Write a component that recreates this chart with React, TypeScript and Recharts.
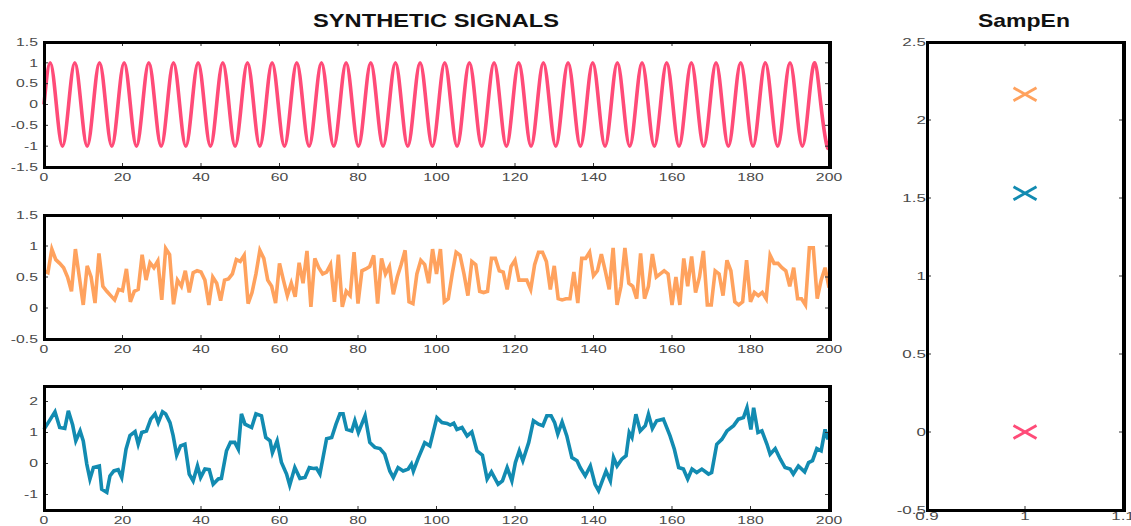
import React from 'react';
import { LineChart, Line, XAxis, YAxis, ScatterChart, Scatter } from 'recharts';

// top panel: pure sine, read at its zero crossings and extrema
const sineT = [
  0, 1.57, 3.14, 4.71, 6.28, 7.85, 9.42, 11.0, 12.57, 14.14, 15.71, 17.28, 18.85, 20.42, 21.99, 23.56,
  25.13, 26.7, 28.27, 29.85, 31.42, 32.99, 34.56, 36.13, 37.7, 39.27, 40.84, 42.41, 43.98, 45.55, 47.12, 48.69,
  50.27, 51.84, 53.41, 54.98, 56.55, 58.12, 59.69, 61.26, 62.83, 64.4, 65.97, 67.54, 69.12, 70.69, 72.26, 73.83,
  75.4, 76.97, 78.54, 80.11, 81.68, 83.25, 84.82, 86.39, 87.96, 89.54, 91.11, 92.68, 94.25, 95.82, 97.39, 98.96,
  100.53, 102.1, 103.67, 105.24, 106.81, 108.38, 109.96, 111.53, 113.1, 114.67, 116.24, 117.81, 119.38, 120.95, 122.52, 124.09,
  125.66, 127.23, 128.81, 130.38, 131.95, 133.52, 135.09, 136.66, 138.23, 139.8, 141.37, 142.94, 144.51, 146.08, 147.65, 149.23,
  150.8, 152.37, 153.94, 155.51, 157.08, 158.65, 160.22, 161.79, 163.36, 164.93, 166.5, 168.08, 169.65, 171.22, 172.79, 174.36,
  175.93, 177.5, 179.07, 180.64, 182.21, 183.78, 185.35, 186.92, 188.5, 190.07, 191.64, 193.21, 194.78, 196.35, 197.92, 199.49,
  200,
];
const sineV = [
  0, 1, 0, -1, 0, 1, 0, -1, 0, 1, 0, -1, 0, 1, 0, -1,
  0, 1, 0, -1, 0, 1, 0, -1, 0, 1, 0, -1, 0, 1, 0, -1,
  0, 1, 0, -1, 0, 1, 0, -1, 0, 1, 0, -1, 0, 1, 0, -1,
  0, 1, 0, -1, 0, 1, 0, -1, 0, 1, 0, -1, 0, 1, 0, -1,
  0, 1, 0, -1, 0, 1, 0, -1, 0, 1, 0, -1, 0, 1, 0, -1,
  0, 1, 0, -1, 0, 1, 0, -1, 0, 1, 0, -1, 0, 1, 0, -1,
  0, 1, 0, -1, 0, 1, 0, -1, 0, 1, 0, -1, 0, 1, 0, -1,
  0, 1, 0, -1, 0, 1, 0, -1, 0, 1, 0, -1, 0, 1, 0, -1,
  -0.87,
];

// middle panel: one value per sample, t = 0..200
const noiseV = [
  0.60, 0.57, 0.95, 0.78, 0.72, 0.65, 0.50, 0.27, 0.95, 0.50,
  0.05, 0.68, 0.50, 0.08, 0.88, 0.35, 0.27, 0.20, 0.13, 0.30,
  0.28, 0.63, 0.10, 0.27, 0.30, 0.86, 0.45, 0.73, 0.65, 0.76,
  0.13, 0.96, 0.86, 0.06, 0.45, 0.35, 0.60, 0.25, 0.57, 0.60,
  0.58, 0.45, 0.05, 0.50, 0.40, 0.12, 0.45, 0.47, 0.55, 0.78,
  0.75, 0.85, 0.07, 0.25, 0.55, 0.93, 0.80, 0.45, 0.35, 0.08,
  0.72, 0.45, 0.20, 0.40, 0.18, 0.73, 0.40, 0.92, 0.02, 0.80,
  0.65, 0.55, 0.58, 0.70, 0.10, 0.86, 0.02, 0.27, 0.20, 0.90,
  0.07, 0.60, 0.63, 0.67, 0.85, 0.07, 0.80, 0.55, 0.67, 0.22,
  0.50, 0.70, 0.93, 0.10, 0.07, 0.55, 0.77, 0.70, 0.40, 0.95,
  0.55, 0.95, 0.10, 0.15, 0.55, 0.90, 0.85, 0.55, 0.20, 0.75,
  0.70, 0.27, 0.25, 0.27, 0.80, 0.80, 0.60, 0.58, 0.30, 0.67,
  0.77, 0.45, 0.45, 0.45, 0.30, 0.70, 0.90, 0.90, 0.75, 0.30,
  0.68, 0.15, 0.13, 0.15, 0.15, 0.58, 0.08, 0.80, 0.80, 0.90,
  0.52, 0.60, 0.87, 0.60, 0.30, 0.97, 0.05, 0.35, 0.97, 0.40,
  0.35, 0.15, 0.88, 0.15, 0.35, 0.87, 0.50, 0.55, 0.60, 0.55,
  0.05, 0.50, 0.05, 0.80, 0.35, 0.83, 0.25, 0.50, 0.92, 0.05,
  0.05, 0.60, 0.55, 0.20, 0.77, 0.60, 0.10, 0.05, 0.10, 0.77,
  0.10, 0.25, 0.20, 0.25, 0.15, 0.85, 0.72, 0.72, 0.65, 0.60,
  0.35, 0.65, 0.15, 0.15, 0.05, 0.97, 0.97, 0.15, 0.45, 0.65,
  0.33,
];

// bottom panel: noisy slow wave, read at its visible corners
const waveT = [
  0, 2.8, 4, 5.3, 6.2, 7.3, 8.1, 9.2, 10, 10.9,
  11.7, 12.6, 14.1, 14.7, 16, 16.8, 17.8, 18.9, 19.8, 20.9,
  21.9, 23.2, 24, 24.9, 26.1, 27.2, 28.3, 29.1, 30.2, 31,
  32.1, 32.9, 33.8, 34.8, 35.9, 37, 38, 39.1, 39.9, 41,
  42.1, 43.1, 44.4, 45.2, 46.5, 47.5, 48.6, 49.5, 50.3, 51.2,
  52.9, 54, 55.4, 56.5, 57.6, 58.2, 59.4, 60.5, 61.8, 62.6,
  63.9, 65.2, 66.5, 67.6, 68.6, 69.4, 70.3, 72, 73.3, 74.4,
  75.4, 76.2, 77.1, 78.4, 79.2, 80.1, 81.8, 83, 84.3, 85.6,
  86.8, 88.1, 89, 90.2, 91.5, 92.8, 93.6, 94.1, 95.3, 97,
  98.3, 100.1, 101.4, 102.7, 103.5, 104.4, 105.2, 106.5, 107.8, 109,
  110.3, 111.7, 112.9, 114, 115.7, 116.8, 118, 119.2, 120.1, 121.1,
  122, 123.5, 124.7, 126, 127.1, 128.1, 129.2, 130.1, 130.9, 132,
  133.2, 134.5, 135.8, 136.6, 137.9, 139.2, 140.4, 141.3, 142.1, 143.2,
  144.3, 145.1, 146, 147.2, 148.3, 149.1, 149.8, 150.8, 151.9, 153.2,
  154, 155, 156.1, 157.8, 159.5, 160.6, 161.7, 162.9, 164, 165.1,
  166.3, 167.6, 169.3, 170.1, 171.4, 172.7, 174, 175.7, 176.9, 178.2,
  179.1, 180.1, 180.8, 181.9, 182.9, 184.2, 185, 186.3, 187.6, 188.8,
  190.1, 190.9, 192.2, 193.8, 194.8, 195.8, 196.9, 198, 199, 199.7,
  200,
];
const waveV = [
  1.1, 1.67, 1.16, 1.13, 1.7, 1.24, 0.73, 1.05, 0.73, -0.02,
  -0.5, -0.13, -0.08, -0.83, -0.93, -0.4, -0.24, -0.2, -0.45, 0.46,
  0.9, 1.03, 0.62, 1.0, 1.05, 1.43, 1.6, 1.32, 1.67, 1.6,
  1.32, 0.9, 0.27, 0.57, 0.62, -0.34, -0.56, -0.08, -0.45, -0.18,
  -0.2, -0.67, -0.5, -0.48, 0.41, 0.68, 0.68, 0.46, 1.6, 1.27,
  1.16, 1.6, 1.54, 0.84, 0.73, 0.35, 0.73, 0.03, -0.34, -0.7,
  -0.13, -0.48, -0.45, -0.13, -0.16, -0.15, -0.34, 0.8, 0.84, 1.27,
  1.6, 1.6, 1.1, 1.05, 1.38, 1.0, 1.54, 0.68, 0.52, 0.48,
  0.3, -0.24, -0.45, -0.13, -0.24, -0.18, -0.02, -0.25, 0.16, 0.67,
  0.57, 1.48, 1.32, 1.29, 1.24, 1.3, 1.1, 1.16, 0.89, 1.02,
  0.41, 0.27, -0.5, -0.27, -0.67, -0.56, -0.13, -0.56, 0.03, 0.41,
  0.09, 0.68, 1.38, 1.27, 1.22, 1.54, 1.54, 1.32, 0.95, 1.34,
  0.89, 0.19, 0.09, -0.13, -0.4, -0.08, -0.67, -0.88, -0.61, -0.24,
  -0.56, 0.19, -0.08, 0.14, 0.25, 1.0, 0.84, 1.59, 1.05, 1.22,
  1.59, 1.13, 1.38, 1.43, 0.89, 0.46, -0.13, -0.18, -0.5, -0.18,
  -0.29, -0.18, -0.34, -0.29, 0.62, 0.78, 1.05, 1.22, 1.43, 1.48,
  1.8, 1.1, 1.8, 1.0, 1.05, 0.62, 0.3, 0.48, 0.14, -0.13,
  -0.18, -0.34, -0.08, -0.27, 0.03, 0.09, 0.48, 0.41, 1.1, 0.78,
  0.95,
];

// right panel: sample entropy of each signal
const sampEnV = [0.0, 2.165, 1.53]; // sine, noise, wave

const timeTicks = [0, 20, 40, 60, 80, 100, 120, 140, 160, 180, 200];
const sineTicks = [-1.5, -1, -0.5, 0, 0.5, 1, 1.5];
const noiseTicks = [-0.5, 0, 0.5, 1, 1.5];
const waveTicks = [-1, 0, 1, 2];
const sampEnTicks = [-0.5, 0, 0.5, 1, 1.5, 2, 2.5];
const sampEnXTicks = [0.9, 1, 1.1];

const RED = '#ff4b78';
const ORANGE = '#ffa25e';
const BLUE = '#128bb1';
const LABEL = '#4a4a4a';
const FONT = '"Liberation Sans", Arial, Helvetica, sans-serif';

const PLOT_L = 44;
const PLOT_R = 829;
const PAD_T = 20;
const AXIS_H = 28;
const LEFT_W = 860;

const Frame = ({ left, top, w, h }) => (
  <div
    style={{
      position: 'absolute',
      left: left - 1.5,
      top: top - 1.5,
      width: w + 4,
      height: h + 3,
      boxSizing: 'border-box',
      borderStyle: 'solid',
      borderColor: '#000',
      borderWidth: '3px 4.5px 3px 3px',
      pointerEvents: 'none',
    }}
  />
);

function Panel({ top, h, data, color, domain, ticks, curve }) {
  const bottom = PAD_T + h;
  const xTick = (p) => (
    <g>
      <line x1={p.x} x2={p.x} y1={bottom} y2={bottom - 4} stroke="#333" />
      <line x1={p.x} x2={p.x} y1={PAD_T} y2={PAD_T + 4} stroke="#333" />
      <text
        transform={`translate(${p.x},${bottom + 13.5}) scale(1.5,1)`}
        textAnchor="middle"
        fontSize={10.5}
        fill={LABEL}
        fontFamily={FONT}
      >
        {p.payload.value}
      </text>
    </g>
  );
  const yTick = (p) => (
    <g>
      <line x1={PLOT_L} x2={PLOT_L + 4} y1={p.y} y2={p.y} stroke="#333" />
      <line x1={PLOT_R - 4} x2={PLOT_R} y1={p.y} y2={p.y} stroke="#333" />
      <text
        transform={`translate(${PLOT_L - 6},${p.y + 3.8}) scale(1.5,1)`}
        textAnchor="end"
        fontSize={10.5}
        fill={LABEL}
        fontFamily={FONT}
      >
        {p.payload.value}
      </text>
    </g>
  );
  return (
    <div style={{ position: 'absolute', left: 0, top: top - PAD_T, width: LEFT_W, height: PAD_T + h + AXIS_H }}>
      <LineChart
        width={LEFT_W}
        height={PAD_T + h + AXIS_H}
        data={data}
        margin={{ top: PAD_T, right: LEFT_W - PLOT_R, bottom: 0, left: 0 }}
      >
        <XAxis
          dataKey="t"
          type="number"
          domain={[0, 200]}
          ticks={timeTicks}
          interval={0}
          tick={xTick}
          tickLine={false}
          axisLine={false}
          height={AXIS_H}
        />
        <YAxis
          type="number"
          domain={domain}
          ticks={ticks}
          interval={0}
          tick={yTick}
          tickLine={false}
          axisLine={false}
          width={PLOT_L}
          allowDataOverflow
        />
        <Line dataKey="v" type={curve} stroke={color} strokeWidth={3.6} dot={false} isAnimationActive={false} />
      </LineChart>
      <Frame left={PLOT_L} top={PAD_T} w={PLOT_R - PLOT_L} h={h} />
    </div>
  );
}

const crossMark = (color) => (p) => (
  <g stroke={color} strokeWidth={2.8}>
    <line x1={p.cx - 11.5} y1={p.cy - 6.5} x2={p.cx + 11.5} y2={p.cy + 6.5} />
    <line x1={p.cx - 11.5} y1={p.cy + 6.5} x2={p.cx + 11.5} y2={p.cy - 6.5} />
  </g>
);

function SampEnPanel() {
  const boxL = 870;
  const boxT = 22;
  const W = 261;
  const H = 504;
  const yW = 57;
  const xH = 16;
  const plotR = W - 8;
  const plotB = H - xH;
  const xTick = (p) => (
    <g>
      <line x1={p.x} x2={p.x} y1={plotB} y2={plotB - 4} stroke="#333" />
      <line x1={p.x} x2={p.x} y1={PAD_T} y2={PAD_T + 4} stroke="#333" />
      <text
        transform={`translate(${p.x},${plotB + 10}) scale(1.7,1)`}
        textAnchor="middle"
        fontSize={10}
        fill={LABEL}
        fontFamily={FONT}
      >
        {p.payload.value}
      </text>
    </g>
  );
  const yTick = (p) => (
    <g>
      <line x1={yW} x2={yW + 4} y1={p.y} y2={p.y} stroke="#333" />
      <line x1={plotR - 4} x2={plotR} y1={p.y} y2={p.y} stroke="#333" />
      <text
        transform={`translate(${yW - 1},${p.y + 3.5}) scale(1.7,1)`}
        textAnchor="end"
        fontSize={10}
        fill={LABEL}
        fontFamily={FONT}
      >
        {p.payload.value}
      </text>
    </g>
  );
  const colors = [RED, ORANGE, BLUE];
  return (
    <div style={{ position: 'absolute', left: boxL, top: boxT, width: W, height: H }}>
      <ScatterChart width={W} height={H} margin={{ top: PAD_T, right: W - plotR, bottom: 0, left: 0 }}>
        <XAxis
          dataKey="x"
          type="number"
          domain={[0.9, 1.1]}
          ticks={sampEnXTicks}
          interval={0}
          tick={xTick}
          tickLine={false}
          axisLine={false}
          height={xH}
        />
        <YAxis
          dataKey="y"
          type="number"
          domain={[-0.5, 2.5]}
          ticks={sampEnTicks}
          interval={0}
          tick={yTick}
          tickLine={false}
          axisLine={false}
          width={yW}
        />
        {sampEnV.map((v, i) => (
          <Scatter
            key={i}
            data={[{ x: 1, y: v }]}
            fill={colors[i]}
            shape={crossMark(colors[i])}
            isAnimationActive={false}
          />
        ))}
      </ScatterChart>
      <Frame left={yW} top={PAD_T} w={plotR - yW} h={plotB - PAD_T} />
    </div>
  );
}

export default function App() {
  const sineData = sineT.map((t, i) => ({ t, v: sineV[i] }));
  const noiseData = noiseV.map((v, i) => ({ t: i, v }));
  const waveData = waveT.map((t, i) => ({ t, v: waveV[i] }));
  return (
    <div
      style={{
        position: 'absolute',
        left: 0,
        top: 0,
        width: 1131,
        height: 526,
        background: '#fff',
        overflow: 'hidden',
      }}
    >
      <svg width={1131} height={40} style={{ position: 'absolute', left: 0, top: 0 }}>
        <text
          x={313}
          y={26.5}
          fontSize={19}
          fontWeight="bold"
          fontFamily={FONT}
          fill="#111"
          textLength={246}
          lengthAdjust="spacingAndGlyphs"
        >
          SYNTHETIC SIGNALS
        </text>
        <text
          x={978}
          y={26.5}
          fontSize={19}
          fontWeight="bold"
          fontFamily={FONT}
          fill="#111"
          textLength={92}
          lengthAdjust="spacingAndGlyphs"
        >
          SampEn
        </text>
      </svg>
      <Panel top={42} h={125} data={sineData} color={RED} domain={[-1.5, 1.5]} ticks={sineTicks} curve="natural" />
      <Panel top={215} h={124} data={noiseData} color={ORANGE} domain={[-0.5, 1.5]} ticks={noiseTicks} curve="linear" />
      <Panel top={386} h={124} data={waveData} color={BLUE} domain={[-1.5, 2.5]} ticks={waveTicks} curve="linear" />
      <SampEnPanel />
    </div>
  );
}
